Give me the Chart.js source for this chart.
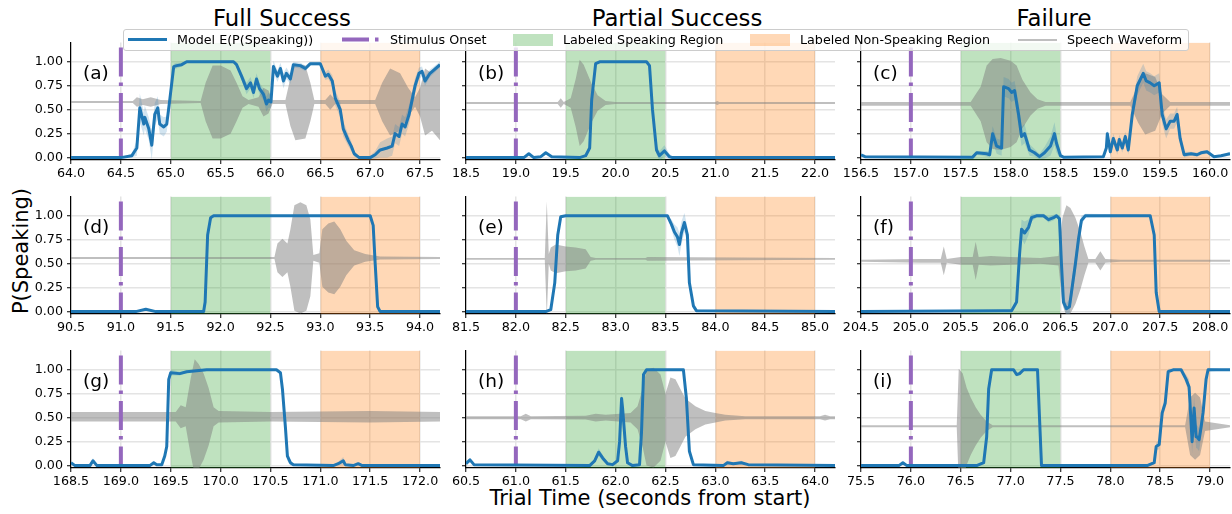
<!DOCTYPE html>
<html>
<head>
<meta charset="utf-8">
<title>P(Speaking) examples</title>
<script src="https://cdn.jsdelivr.net/npm/chart.js@4"></script>
<style>
    body {
        margin: 0;
        width: 1232px;
        height: 514px;
        overflow: hidden;
        background: #fff;
        position: relative;
        font-family: "DejaVu Sans", sans-serif;
    }

    canvas {
        position: absolute;
    }

    .txt {
        position: absolute;
        transform: translate(-50%, -50%);
        white-space: nowrap;
        line-height: 1;
        color: #000;
    }

    .legend {
        position: absolute;
        left: 123px;
        top: 29px;
        width: 1064px;
        height: 20px;
        border: 1px solid #cccccc;
        border-radius: 3px;
        background: rgba(255, 255, 255, 0.8);
        z-index: 5;
    }

    .leg {
        position: absolute;
        top: 10px;
        transform: translateY(-50%);
        font-size: 12.7px;
        line-height: 1;
        white-space: nowrap;
        color: #000;
    }
</style>
</head>
<body>

<div class="txt" style="left:282px; top:18px; font-size:22.8px;">Full Success</div>
<div class="txt" style="left:677px; top:18px; font-size:22.8px;">Partial Success</div>
<div class="txt" style="left:1054px; top:18px; font-size:22.8px;">Failure</div>
<div class="txt" style="left:21px; top:251px; font-size:21px; transform:translate(-50%,-50%) rotate(-90deg);">P(Speaking)</div>
<div class="txt" style="left:650px; top:498px; font-size:21px;">Trial Time (seconds from start)</div>

<div class="legend">
    <div style="position:absolute; left:4px; top:8px; width:39px; height:3px; background:#1f77b4;"></div>
    <div class="leg" style="left:53px;">Model E(P(Speaking))</div>
    <svg style="position:absolute; left:218px; top:7px;" width="40" height="5">
        <line x1="0" y1="2.5" x2="40" y2="2.5" stroke="#9467bd" stroke-width="4" stroke-dasharray="27,6,3.5,6"/>
    </svg>
    <div class="leg" style="left:266px;">Stimulus Onset</div>
    <div style="position:absolute; left:389px; top:3.5px; width:40px; height:12px; background:rgba(44,160,44,0.3);"></div>
    <div class="leg" style="left:439px;">Labeled Speaking Region</div>
    <div style="position:absolute; left:626px; top:3.5px; width:40px; height:12px; background:rgba(255,127,14,0.3);"></div>
    <div class="leg" style="left:676px;">Labeled Non-Speaking Region</div>
    <div style="position:absolute; left:894px; top:9px; width:39px; height:1.5px; background:rgba(128,128,128,0.5);"></div>
    <div class="leg" style="left:943px;">Speech Waveform</div>
</div>

<script>
    // ---- shared ----
    const panelIds = ['a', 'b', 'c', 'd', 'e', 'f', 'g', 'h', 'i'];
    const onsets = [64.5, 19.0, 157.0, 91.0, 82.0, 205.0, 169.0, 61.0, 76.0];
    const speakSpans = [[65.0, 66.0], [19.5, 20.5], [157.5, 158.5], [91.5, 92.5], [82.5, 83.5], [205.5, 206.5], [169.5, 170.5], [61.5, 62.5], [76.5, 77.5]];
    const nonSpeakSpans = [[66.5, 67.5], [21.0, 22.0], [159.0, 160.0], [93.0, 94.0], [84.0, 85.0], [207.0, 208.0], [171.0, 172.0], [63.0, 64.0], [78.0, 79.0]];
    const xMax = [67.7, 22.2, 160.2, 94.2, 85.2, 208.2, 172.2, 64.2, 79.2];
    const waveBase = [0.58, 0.57, 0.56, 0.56, 0.55, 0.53, 0.51, 0.50, 0.41];
    const yTicks = [0, 0.25, 0.5, 0.75, 1.0];

    const aTicks = [64.0, 64.5, 65.0, 65.5, 66.0, 66.5, 67.0, 67.5];
    const bTicks = [18.5, 19.0, 19.5, 20.0, 20.5, 21.0, 21.5, 22.0];
    const cTicks = [156.5, 157.0, 157.5, 158.0, 158.5, 159.0, 159.5, 160.0];
    const dTicks = [90.5, 91.0, 91.5, 92.0, 92.5, 93.0, 93.5, 94.0];
    const eTicks = [81.5, 82.0, 82.5, 83.0, 83.5, 84.0, 84.5, 85.0];
    const fTicks = [204.5, 205.0, 205.5, 206.0, 206.5, 207.0, 207.5, 208.0];
    const gTicks = [168.5, 169.0, 169.5, 170.0, 170.5, 171.0, 171.5, 172.0];
    const hTicks = [60.5, 61.0, 61.5, 62.0, 62.5, 63.0, 63.5, 64.0];
    const iTicks = [75.5, 76.0, 76.5, 77.0, 77.5, 78.0, 78.5, 79.0];

    // ---- (a) ----
    const aT = [64.0, 64.5, 64.61, 64.66, 64.69, 64.73, 64.74, 64.78, 64.81, 64.84, 64.87, 64.89, 64.93, 64.96, 64.99, 65.03, 65.06, 65.11, 65.16, 65.63, 65.66, 65.71, 65.76, 65.80, 65.83, 65.86, 65.89, 65.93, 65.96, 65.98, 66.005, 66.03, 66.07, 66.10, 66.13, 66.16, 66.20, 66.23, 66.30, 66.35, 66.40, 66.50, 66.55, 66.58, 66.62, 66.65, 66.70, 66.73, 66.78, 66.81, 66.84, 66.89, 67.00, 67.05, 67.10, 67.17, 67.22, 67.25, 67.29, 67.32, 67.35, 67.39, 67.42, 67.45, 67.49, 67.52, 67.55, 67.60, 67.70];
    const aP = [0, 0, 0.02, 0.1, 0.52, 0.35, 0.42, 0.3, 0.13, 0.45, 0.52, 0.35, 0.32, 0.35, 0.6, 0.95, 0.96, 0.97, 1.0, 1.0, 0.97, 0.85, 0.72, 0.78, 0.68, 0.82, 0.72, 0.66, 0.56, 0.6, 0.58, 0.95, 0.85, 0.93, 0.8, 0.88, 0.82, 0.97, 0.96, 0.93, 0.98, 0.98, 0.85, 0.87, 0.8, 0.62, 0.5, 0.3, 0.18, 0.12, 0.04, 0.0, 0.0, 0.03, 0.08, 0.1, 0.12, 0.25, 0.22, 0.35, 0.32, 0.45, 0.6, 0.75, 0.88, 0.9, 0.8, 0.88, 0.97];
    const aS = [0, 0, 0.02, 0.08, 0.15, 0.12, 0.12, 0.12, 0.15, 0.12, 0.12, 0.1, 0.1, 0.08, 0.08, 0.03, 0.03, 0.02, 0.01, 0.01, 0.02, 0.04, 0.06, 0.06, 0.06, 0.06, 0.06, 0.06, 0.08, 0.08, 0.06, 0.06, 0.06, 0.06, 0.08, 0.06, 0.05, 0.03, 0.03, 0.03, 0.02, 0.02, 0.04, 0.05, 0.06, 0.08, 0.08, 0.08, 0.06, 0.05, 0.03, 0.01, 0.02, 0.04, 0.08, 0.1, 0.1, 0.1, 0.1, 0.1, 0.1, 0.1, 0.08, 0.08, 0.06, 0.05, 0.05, 0.04, 0.03];
    const aWT = [64.0, 64.62, 64.66, 64.72, 64.8, 64.9, 65.3, 65.35, 65.42, 65.5, 65.6, 65.66, 65.72, 65.78, 65.88, 65.93, 65.98, 66.02, 66.15, 66.2, 66.25, 66.35, 66.4, 66.44, 66.55, 66.6, 66.65, 67.05, 67.12, 67.2, 67.3, 67.38, 67.45, 67.5, 67.55, 67.62, 67.7];
    const aWA = [0.01, 0.01, 0.05, 0.03, 0.05, 0.02, 0.01, 0.2, 0.38, 0.38, 0.33, 0.2, 0.06, 0.02, 0.05, 0.15, 0.12, 0.02, 0.02, 0.25, 0.4, 0.38, 0.2, 0.02, 0.02, 0.08, 0.02, 0.02, 0.2, 0.35, 0.3, 0.15, 0.05, 0.15, 0.35, 0.3, 0.4];

    // ---- (b) ----
    const bT = [18.5, 19.08, 19.13, 19.18, 19.25, 19.3, 19.36, 19.64, 19.7, 19.74, 19.76, 19.8, 19.84, 20.31, 20.34, 20.37, 20.41, 20.44, 20.49, 20.54, 20.57, 22.2];
    const bP = [0, 0, 0.04, 0.0, 0.01, 0.05, 0.01, 0, 0.02, 0.1, 0.6, 0.98, 1.0, 1.0, 0.96, 0.5, 0.08, 0.02, 0.07, 0.01, 0, 0];
    const bS = [0, 0, 0.01, 0, 0, 0.02, 0, 0, 0.01, 0.02, 0.02, 0.01, 0, 0, 0.01, 0.03, 0.05, 0.05, 0.06, 0.03, 0.01, 0];
    const bWT = [18.5, 19.42, 19.45, 19.48, 19.55, 19.6, 19.64, 19.68, 19.72, 19.76, 19.82, 19.9, 20.0, 21.0, 21.02, 21.04, 22.2];
    const bWA = [0.01, 0.01, 0.05, 0.01, 0.05, 0.25, 0.45, 0.4, 0.3, 0.2, 0.08, 0.02, 0.01, 0.01, 0.02, 0.01, 0.01];

    // ---- (c) ----
    const cT = [156.5, 156.54, 157.62, 157.66, 157.76, 157.79, 157.82, 157.86, 157.91, 157.93, 157.98, 158.01, 158.04, 158.08, 158.11, 158.14, 158.19, 158.24, 158.29, 158.34, 158.40, 158.44, 158.46, 158.50, 158.53, 158.93, 158.96, 158.97, 159.0, 159.03, 159.07, 159.09, 159.12, 159.15, 159.18, 159.22, 159.27, 159.33, 159.36, 159.40, 159.44, 159.49, 159.52, 159.56, 159.60, 159.64, 159.67, 159.70, 159.74, 159.81, 159.87, 159.91, 159.97, 160.04, 160.11, 160.2];
    const cP = [0.03, 0.01, 0.005, 0.05, 0.04, 0.03, 0.25, 0.12, 0.1, 0.74, 0.72, 0.68, 0.7, 0.45, 0.22, 0.25, 0.08, 0.05, 0.01, 0.05, 0.12, 0.25, 0.15, 0.02, 0.005, 0.01, 0.1, 0.25, 0.06, 0.2, 0.08, 0.19, 0.1, 0.22, 0.08, 0.45, 0.75, 0.88, 0.8, 0.78, 0.75, 0.78, 0.45, 0.3, 0.38, 0.38, 0.45, 0.2, 0.03, 0.04, 0.03, 0.05, 0.06, 0.01, 0.02, 0.04];
    const cS = [0.01, 0.01, 0.01, 0.02, 0.03, 0.03, 0.08, 0.08, 0.08, 0.1, 0.1, 0.1, 0.1, 0.12, 0.1, 0.1, 0.06, 0.04, 0.03, 0.06, 0.1, 0.12, 0.1, 0.03, 0.01, 0.01, 0.03, 0.04, 0.04, 0.05, 0.05, 0.05, 0.05, 0.05, 0.05, 0.08, 0.1, 0.1, 0.1, 0.1, 0.1, 0.1, 0.1, 0.1, 0.08, 0.08, 0.08, 0.06, 0.03, 0.02, 0.02, 0.02, 0.02, 0.01, 0.01, 0.02];
    const cWT = [156.5, 157.6, 157.65, 157.7, 157.76, 157.82, 157.9, 158.0, 158.06, 158.12, 158.2, 158.27, 158.35, 159.2, 159.28, 159.35, 159.45, 159.52, 159.6, 160.2];
    const cWA = [0.02, 0.02, 0.1, 0.18, 0.4, 0.47, 0.48, 0.45, 0.4, 0.25, 0.12, 0.05, 0.02, 0.02, 0.2, 0.32, 0.28, 0.1, 0.02, 0.02];

    // ---- (d) ----
    const dT = [90.5, 91.15, 91.25, 91.35, 91.83, 91.845, 91.87, 91.9, 91.93, 93.5, 93.53, 93.55, 93.575, 93.6, 94.2];
    const dP = [0, 0, 0.025, 0, 0, 0.1, 0.8, 0.98, 1.0, 1.0, 0.9, 0.5, 0.05, 0, 0];
    const dS = [0, 0, 0.005, 0, 0, 0.01, 0.01, 0.01, 0, 0, 0.01, 0.01, 0.01, 0, 0];
    const dWT = [90.5, 92.54, 92.57, 92.62, 92.67, 92.7, 92.74, 92.8, 92.86, 92.9, 92.93, 92.99, 93.02, 93.08, 93.14, 93.2, 93.26, 93.34, 93.45, 93.6, 94.2];
    const dWA = [0.01, 0.01, 0.15, 0.2, 0.15, 0.3, 0.55, 0.58, 0.55, 0.4, 0.03, 0.05, 0.3, 0.36, 0.38, 0.3, 0.18, 0.08, 0.04, 0.015, 0.01];

    // ---- (e) ----
    const eT = [81.5, 82.3, 82.35, 82.39, 82.42, 82.45, 82.5, 83.52, 83.56, 83.59, 83.62, 83.64, 83.66, 83.69, 83.72, 83.74, 83.78, 83.81, 85.2];
    const eP = [0, 0, 0.02, 0.3, 0.8, 0.99, 1.0, 1.0, 0.91, 0.83, 0.78, 0.70, 0.82, 0.93, 0.8, 0.3, 0.06, 0.01, 0];
    const eS = [0, 0, 0.01, 0.02, 0.02, 0.01, 0, 0, 0.05, 0.08, 0.1, 0.12, 0.12, 0.1, 0.08, 0.05, 0.03, 0.01, 0];
    const eWT = [81.5, 82.29, 82.31, 82.33, 82.35, 82.4, 82.5, 82.6, 82.7, 82.75, 82.8, 83.3, 83.32, 85.2];
    const eWA = [0.01, 0.01, 0.6, 0.05, 0.12, 0.15, 0.13, 0.12, 0.1, 0.02, 0.01, 0.01, 0.02, 0.01];

    // ---- (f) ----
    const fT = [204.5, 205.92, 206.01, 206.06, 206.09, 206.11, 206.14, 206.18, 206.21, 206.26, 206.33, 206.38, 206.43, 206.46, 206.49, 206.51, 206.53, 206.56, 206.59, 206.61, 206.65, 206.68, 206.71, 206.75, 207.4, 207.44, 207.46, 207.49, 208.2];
    const fP = [0, 0.01, 0.01, 0.1, 0.6, 0.86, 0.82, 0.88, 0.98, 1.0, 1.0, 0.96, 0.98, 1.0, 0.97, 0.5, 0.1, 0.03, 0.05, 0.2, 0.5, 0.75, 0.95, 1.0, 1.0, 0.8, 0.2, 0, 0];
    const fS = [0, 0, 0.01, 0.03, 0.08, 0.1, 0.12, 0.08, 0.04, 0.02, 0.02, 0.03, 0.03, 0.02, 0.03, 0.05, 0.06, 0.06, 0.08, 0.1, 0.12, 0.1, 0.05, 0.02, 0.01, 0.02, 0.02, 0, 0];
    const fWT = [204.5, 205.1, 205.3, 205.33, 205.36, 205.5, 205.62, 205.65, 205.68, 205.8, 206.0, 206.3, 206.48, 206.52, 206.56, 206.6, 206.65, 206.7, 206.74, 206.78, 206.85, 206.9, 206.95, 207.1, 208.2];
    const fWA = [0.01, 0.02, 0.02, 0.15, 0.02, 0.04, 0.04, 0.2, 0.04, 0.05, 0.04, 0.03, 0.05, 0.45, 0.58, 0.55, 0.45, 0.3, 0.15, 0.02, 0.02, 0.1, 0.02, 0.01, 0.01];

    // ---- (g) ----
    const gT = [168.5, 168.54, 168.69, 168.72, 168.76, 169.29, 169.33, 169.36, 169.41, 169.44, 169.46, 169.48, 169.5, 169.59, 169.66, 169.76, 169.86, 170.56, 170.6, 170.62, 170.65, 170.67, 170.7, 170.73, 171.13, 171.18, 171.23, 171.25, 171.33, 171.38, 171.42, 172.2];
    const gP = [0.03, 0, 0, 0.05, 0, 0, 0.03, 0.01, 0.01, 0.1, 0.2, 0.9, 0.97, 0.96, 0.98, 0.99, 1.0, 1.0, 0.97, 0.8, 0.4, 0.1, 0.03, 0.01, 0, 0.02, 0.05, 0.01, 0, 0.02, 0, 0];
    const gS = [0.01, 0, 0, 0.03, 0, 0, 0.02, 0, 0, 0.03, 0.05, 0.05, 0.03, 0.02, 0.01, 0.01, 0, 0, 0.01, 0.03, 0.05, 0.05, 0.03, 0.01, 0, 0.02, 0.04, 0.01, 0, 0.01, 0, 0];
    const gWT = [168.5, 169.55, 169.6, 169.65, 169.7, 169.74, 169.78, 169.83, 169.88, 169.93, 169.98, 170.5, 171.5, 172.2];
    const gWA = [0.05, 0.05, 0.12, 0.1, 0.4, 0.6, 0.55, 0.45, 0.3, 0.1, 0.06, 0.05, 0.06, 0.05];

    // ---- (h) ----
    const hT = [60.5, 60.54, 60.58, 61.74, 61.79, 61.83, 61.87, 61.92, 61.97, 62.02, 62.04, 62.06, 62.07, 62.1, 62.12, 62.17, 62.24, 62.26, 62.28, 62.31, 62.68, 62.71, 62.74, 62.78, 63.08, 63.12, 63.18, 63.26, 63.33, 64.2];
    const hP = [0.02, 0.06, 0.01, 0, 0.05, 0.14, 0.08, 0.02, 0.01, 0.05, 0.25, 0.7, 0.6, 0.2, 0.03, 0, 0.01, 0.35, 0.95, 1.0, 1.0, 0.7, 0.15, 0.01, 0, 0.03, 0.02, 0.03, 0.01, 0];
    const hS = [0.01, 0.02, 0, 0, 0.02, 0.04, 0.03, 0.01, 0, 0.02, 0.04, 0.06, 0.05, 0.03, 0.01, 0, 0, 0.02, 0.02, 0, 0, 0.02, 0.02, 0, 0, 0.02, 0.01, 0.02, 0, 0];
    const hWT = [60.5, 61.05, 61.1, 61.15, 61.7, 61.8, 61.9, 62.15, 62.22, 62.27, 62.31, 62.38, 62.45, 62.5, 62.55, 62.6, 62.65, 62.7, 62.8, 62.9, 63.0, 63.1, 63.3, 64.05, 64.1, 64.15, 64.2];
    const hWA = [0.015, 0.015, 0.04, 0.015, 0.02, 0.04, 0.03, 0.05, 0.12, 0.3, 0.5, 0.52, 0.45, 0.25, 0.42, 0.4, 0.3, 0.2, 0.12, 0.07, 0.05, 0.03, 0.015, 0.015, 0.03, 0.015, 0.015];

    // ---- (i) ----
    const iT = [75.5, 75.88, 75.92, 75.96, 76.66, 76.73, 76.76, 76.78, 76.81, 77.03, 77.06, 77.09, 77.13, 77.27, 77.29, 77.31, 78.37, 78.44, 78.46, 78.49, 78.52, 78.55, 78.58, 78.63, 78.71, 78.76, 78.79, 78.82, 78.84, 78.86, 78.87, 78.89, 78.91, 78.93, 78.96, 78.98, 79.2];
    const iP = [0, 0, 0.03, 0, 0, 0.03, 0.3, 0.8, 1.0, 1.0, 0.95, 0.96, 1.0, 1.0, 0.5, 0, 0, 0.03, 0.2, 0.22, 0.55, 0.65, 0.98, 1.0, 1.0, 0.9, 0.82, 0.25, 0.6, 0.3, 0.3, 0.27, 0.4, 0.55, 0.9, 1.0, 1.0];
    const iS = [0, 0, 0.01, 0, 0, 0.02, 0.03, 0.02, 0.01, 0, 0.02, 0.02, 0.01, 0, 0.02, 0, 0, 0.02, 0.04, 0.05, 0.06, 0.06, 0.03, 0.01, 0.01, 0.05, 0.08, 0.12, 0.12, 0.12, 0.12, 0.12, 0.1, 0.08, 0.05, 0.02, 0];
    const iWT = [75.5, 76.46, 76.48, 76.52, 76.56, 76.6, 76.65, 76.7, 76.76, 76.82, 78.75, 78.8, 78.85, 78.9, 78.95, 79.2];
    const iWA = [0.01, 0.01, 0.6, 0.55, 0.4, 0.3, 0.2, 0.12, 0.05, 0.01, 0.01, 0.3, 0.35, 0.3, 0.05, 0.01];

    const panels = [
        {t: aT, p: aP, s: aS, wt: aWT, wa: aWA, ticks: aTicks},
        {t: bT, p: bP, s: bS, wt: bWT, wa: bWA, ticks: bTicks},
        {t: cT, p: cP, s: cS, wt: cWT, wa: cWA, ticks: cTicks},
        {t: dT, p: dP, s: dS, wt: dWT, wa: dWA, ticks: dTicks},
        {t: eT, p: eP, s: eS, wt: eWT, wa: eWA, ticks: eTicks},
        {t: fT, p: fP, s: fS, wt: fWT, wa: fWA, ticks: fTicks},
        {t: gT, p: gP, s: gS, wt: gWT, wa: gWA, ticks: gTicks},
        {t: hT, p: hP, s: hS, wt: hWT, wa: hWA, ticks: hTicks},
        {t: iT, p: iP, s: iS, wt: iWT, wa: iWA, ticks: iTicks}
    ];

    // ---- layout (px) ----
    const colLeft = [71, 466, 861];
    const rowTop = [35, 189, 343];
    const PW = 369, PH = 125, YW = 58, PT = 4, PR = 20, XH = 24;
    const FONT = 'DejaVu Sans';

    const pts = (xs, ys) => xs.map((x, i) => ({x: x, y: ys[i]}));

    panels.forEach(function (pn, k) {
        const col = k % 3, row = Math.floor(k / 3);
        const cv = document.createElement('canvas');
        cv.width = YW + PW + PR;
        cv.height = PT + PH + XH;
        cv.style.left = (colLeft[col] - YW) + 'px';
        cv.style.top = (rowTop[row] - PT) + 'px';
        document.body.appendChild(cv);

        const base = waveBase[k];
        const labelPlugin = {
            id: 'panelLabel',
            afterDraw(chart) {
                const c = chart.ctx, a = chart.chartArea;
                c.save();
                c.font = '18.5px "' + FONT + '"';
                c.fillStyle = '#000';
                c.textBaseline = 'middle';
                c.fillText('(' + panelIds[k] + ')', a.left + 12, a.top + 32);
                c.restore();
            }
        };

        new Chart(cv.getContext('2d'), {
            type: 'line',
            data: {
                datasets: [{
                    data: [{x: speakSpans[k][0], y: 1.2}, {x: speakSpans[k][1], y: 1.2}],
                    fill: 'start', backgroundColor: 'rgba(44,160,44,0.3)', borderWidth: 0, order: 5
                }, {
                    data: [{x: nonSpeakSpans[k][0], y: 1.2}, {x: nonSpeakSpans[k][1], y: 1.2}],
                    fill: 'start', backgroundColor: 'rgba(255,127,14,0.3)', borderWidth: 0, order: 5
                }, {
                    data: pts(pn.wt, pn.wa.map(a => base + a)),
                    fill: '+1', backgroundColor: 'rgba(128,128,128,0.5)', borderWidth: 0, borderColor: 'rgba(0,0,0,0)', order: 4
                }, {
                    data: pts(pn.wt, pn.wa.map(a => base - a)),
                    fill: false, borderWidth: 0, borderColor: 'rgba(0,0,0,0)', order: 4
                }, {
                    data: pts(pn.t, pn.p.map((v, i) => v + pn.s[i])),
                    fill: '+1', backgroundColor: 'rgba(31,119,180,0.2)', borderWidth: 0, borderColor: 'rgba(0,0,0,0)', order: 2
                }, {
                    data: pts(pn.t, pn.p.map((v, i) => v - pn.s[i])),
                    fill: false, borderWidth: 0, borderColor: 'rgba(0,0,0,0)', order: 2
                }, {
                    data: [{x: onsets[k], y: 1.15}, {x: onsets[k], y: 0}],
                    borderColor: '#9467bd', borderWidth: 4, borderDash: [29, 6, 3.5, 7],
                    borderCapStyle: 'butt', fill: false, order: 1
                }, {
                    data: pts(pn.t, pn.p),
                    borderColor: '#1f77b4', borderWidth: 3, borderJoinStyle: 'round', fill: false, order: 0
                }]
            },
            options: {
                responsive: false,
                animation: false,
                events: [],
                layout: {padding: {top: PT, right: PR, left: 0, bottom: 0}},
                plugins: {legend: {display: false}, tooltip: {enabled: false}},
                elements: {point: {radius: 0}, line: {tension: 0}},
                scales: {
                    x: {
                        type: 'linear',
                        min: pn.ticks[0],
                        max: xMax[k],
                        afterBuildTicks: s => { s.ticks = pn.ticks.map(v => ({value: v})); },
                        afterFit: s => { s.height = XH; },
                        grid: {color: '#e4e4e4', lineWidth: 1.5, tickColor: '#000', tickLength: 4, tickWidth: 1},
                        border: {color: '#000', width: 1.2},
                        ticks: {
                            color: '#000', font: {family: FONT, size: 12.7}, padding: 2,
                            maxRotation: 0, autoSkip: false,
                            callback: v => Number(v).toFixed(1)
                        }
                    },
                    y: {
                        min: -0.025,
                        max: 1.2,
                        afterBuildTicks: s => { s.ticks = yTicks.map(v => ({value: v})); },
                        afterFit: s => { s.width = YW; },
                        grid: {color: '#e4e4e4', lineWidth: 1.5, tickColor: '#000', tickLength: 4, tickWidth: 1},
                        border: {color: '#000', width: 1.2},
                        ticks: {
                            color: '#000', font: {family: FONT, size: 12.7}, padding: 4,
                            callback: v => col === 0 ? Number(v).toFixed(2) : ''
                        }
                    }
                }
            },
            plugins: [labelPlugin]
        });
    });
</script>
</body>
</html>
